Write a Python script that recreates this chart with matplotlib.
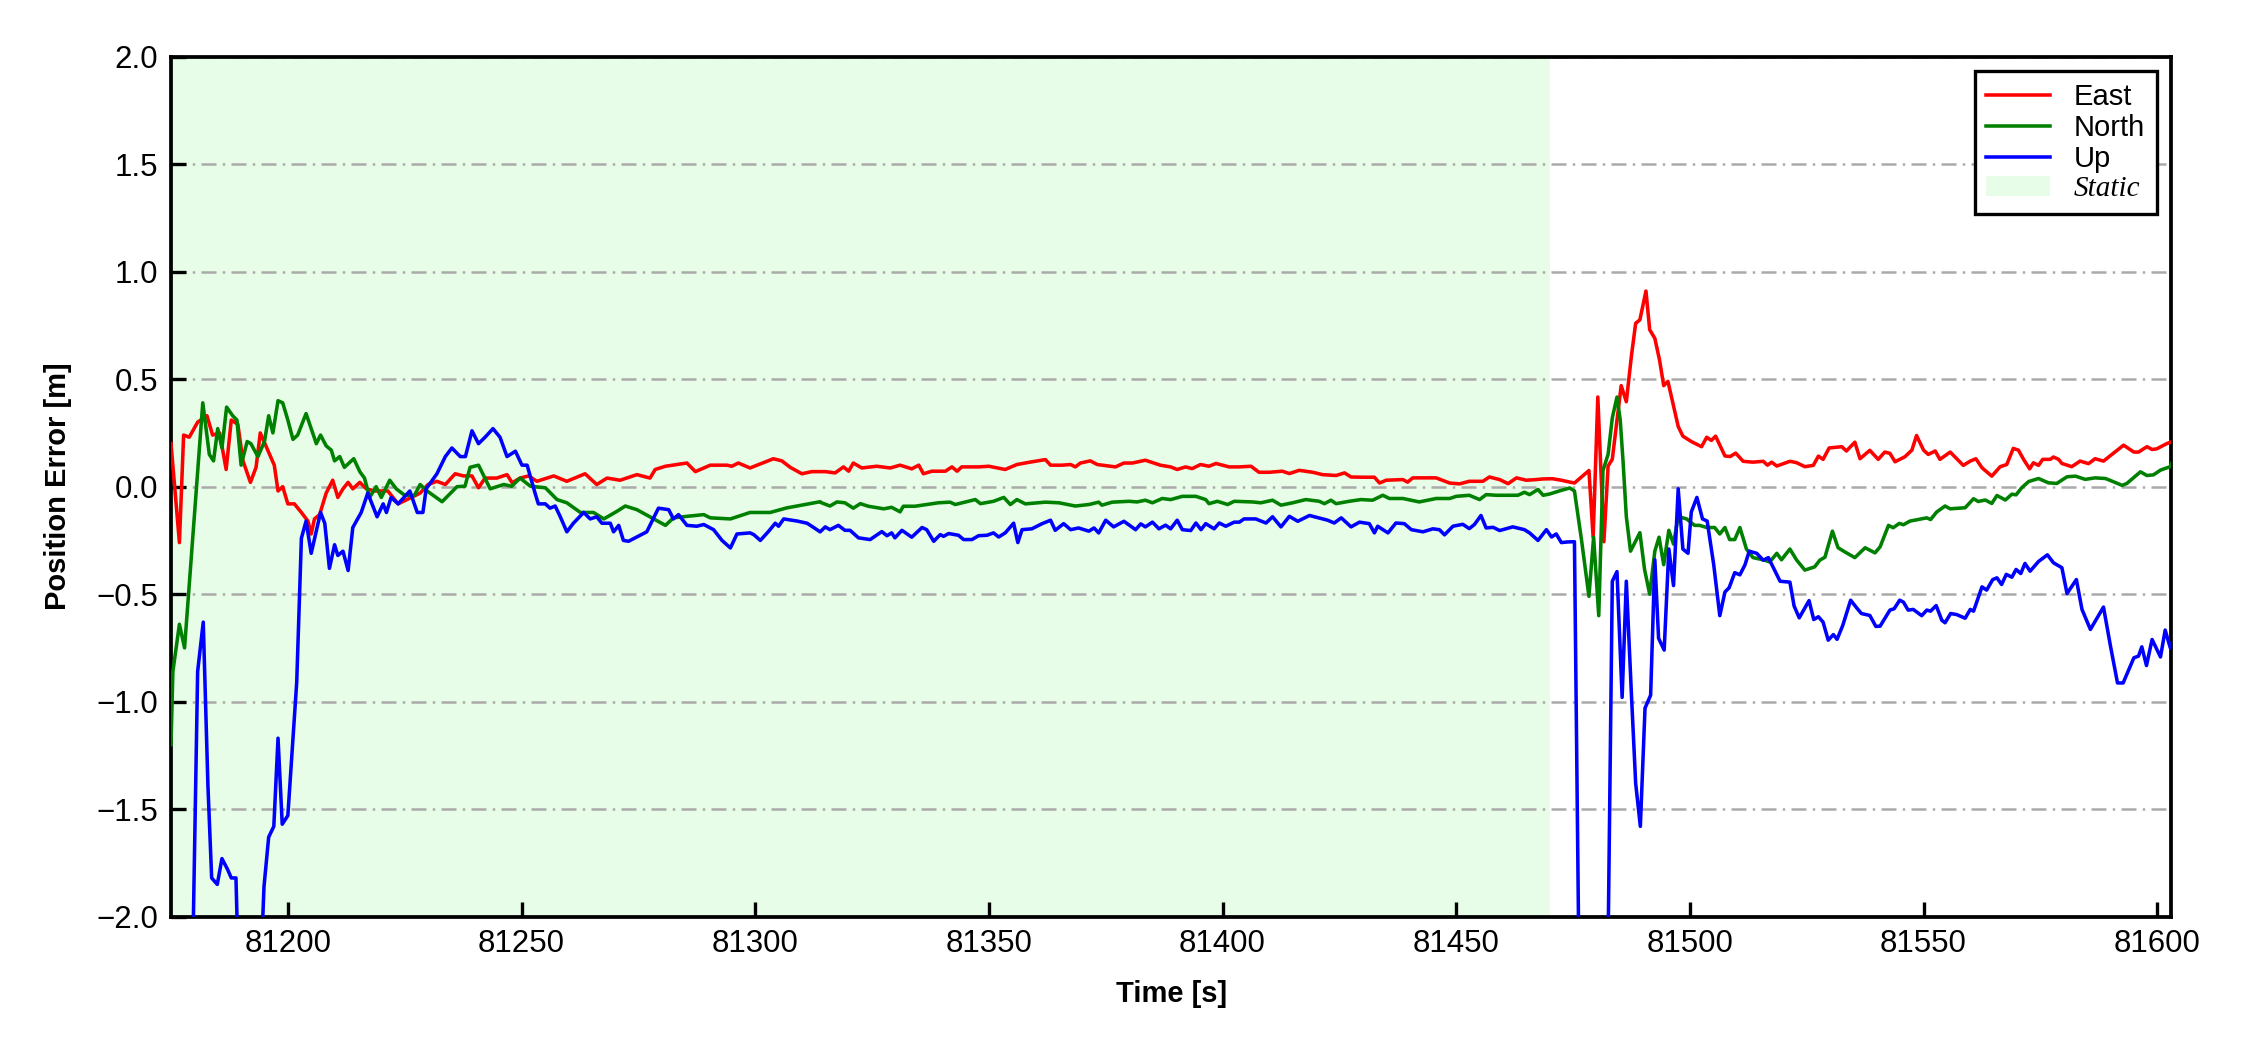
import matplotlib.pyplot as plt
import matplotlib.patches as mpatches

plt.rcParams['font.family'] = ['Liberation Sans', 'DejaVu Sans']
plt.rcParams['axes.unicode_minus'] = True

# ---- data ----
east_t = [81175.0, 81176.8, 81177.7, 81178.9, 81180.7, 81182.7, 81183.9, 81185.4, 81186.8, 81187.9,
          81189.3, 81190.4, 81192.0, 81193.2, 81194.1, 81195.7, 81197.1, 81197.9, 81198.9, 81200.0,
          81201.4, 81202.9, 81204.3, 81205.0, 81205.7, 81206.8, 81208.2, 81209.6, 81210.7, 81211.8,
          81212.9, 81213.9, 81215.4, 81216.8, 81218.6, 81221.4, 81223.6, 81226.4, 81228.3, 81230.0,
          81231.9, 81233.7, 81235.8, 81237.6, 81239.4, 81240.8, 81242.2, 81244.7, 81246.9, 81248.0,
          81249.7, 81251.5, 81253.3, 81256.9, 81259.7, 81263.6, 81266.1, 81268.3, 81271.1, 81274.7,
          81277.5, 81278.6, 81280.8, 81285.4, 81287.2, 81290.4, 81294.0, 81295.0, 81296.4, 81298.9,
          81303.9, 81305.7, 81307.5, 81310.0, 81312.1, 81315.0, 81317.1, 81318.9, 81320.0, 81321.0,
          81322.8, 81326.0, 81328.9, 81331.0, 81333.5, 81335.0, 81336.0, 81337.8, 81340.7, 81342.1,
          81343.2, 81344.2, 81347.8, 81350.0, 81353.5, 81356.0, 81358.5, 81362.1, 81363.2, 81365.7,
          81367.5, 81368.5, 81369.6, 81371.7, 81373.2, 81377.1, 81378.9, 81380.7, 81383.5, 81386.7,
          81388.9, 81390.3, 81392.1, 81393.5, 81395.3, 81397.1, 81398.6, 81401.4, 81403.6, 81406.1,
          81407.8, 81410.0, 81412.8, 81414.3, 81416.4, 81419.3, 81421.4, 81424.3, 81426.1, 81427.5,
          81430.0, 81432.5, 81433.6, 81435.0, 81438.6, 81439.6, 81440.7, 81444.3, 81445.7, 81448.6,
          81450.7, 81452.8, 81455.7, 81457.1, 81459.3, 81461.1, 81462.9, 81465.0, 81467.1, 81468.6,
          81470.6, 81472.5, 81473.5, 81475.3, 81478.4, 81479.3, 81480.3, 81481.6, 81482.5, 81483.4,
          81484.4, 81485.3, 81486.4, 81487.5, 81488.4, 81489.3, 81490.6, 81491.4, 81492.5, 81493.5,
          81494.4, 81495.3, 81496.4, 81497.5, 81498.5, 81500.3, 81502.5, 81503.6, 81504.6, 81505.5,
          81507.5, 81508.6, 81509.8, 81511.4, 81513.5, 81515.7, 81516.6, 81517.5, 81518.6, 81521.4,
          81522.8, 81524.6, 81526.4, 81527.5, 81528.5, 81529.8, 81532.5, 81533.5, 81535.3, 81536.4,
          81538.5, 81540.3, 81541.7, 81542.8, 81543.9, 81546.0, 81547.5, 81548.5, 81550.0, 81551.0,
          81552.5, 81553.5, 81555.7, 81558.5, 81560.0, 81561.2, 81562.5, 81564.6, 81566.4, 81567.8,
          81569.2, 81570.3, 81571.4, 81572.7, 81573.5, 81574.6, 81575.5, 81577.1, 81577.8, 81578.9,
          81579.6, 81581.7, 81583.5, 81585.3, 81586.7, 81588.5, 81590.3, 81592.8, 81595.0, 81596.0,
          81597.8, 81598.9, 81599.9, 81602.1, 81603.5]
east_v = [0.20, -0.26, 0.24, 0.23, 0.30, 0.33, 0.24, 0.25, 0.08, 0.31,
          0.29, 0.12, 0.02, 0.09, 0.25, 0.17, 0.10, -0.02, 0.00, -0.08,
          -0.08, -0.12, -0.16, -0.22, -0.15, -0.13, -0.03, 0.03, -0.05, -0.01,
          0.02, -0.01, 0.02, -0.01, -0.02, -0.02, -0.08, -0.05, -0.03, 0.01,
          0.025, 0.01, 0.06, 0.05, 0.05, -0.005, 0.04, 0.04, 0.056, 0.018,
          0.04, 0.05, 0.025, 0.05, 0.025, 0.06, 0.01, 0.04, 0.03, 0.056,
          0.04, 0.08, 0.095, 0.11, 0.07, 0.10, 0.10, 0.095, 0.11, 0.087,
          0.13, 0.12, 0.09, 0.06, 0.07, 0.07, 0.064, 0.092, 0.072, 0.11,
          0.087, 0.095, 0.087, 0.10, 0.083, 0.10, 0.06, 0.072, 0.072, 0.092,
          0.072, 0.092, 0.092, 0.095, 0.08, 0.103, 0.113, 0.126, 0.10, 0.10,
          0.103, 0.092, 0.11, 0.12, 0.103, 0.092, 0.11, 0.11, 0.123, 0.10,
          0.092, 0.08, 0.092, 0.084, 0.103, 0.095, 0.108, 0.092, 0.092, 0.095,
          0.067, 0.067, 0.072, 0.061, 0.076, 0.067, 0.056, 0.052, 0.064, 0.045,
          0.044, 0.044, 0.017, 0.03, 0.033, 0.021, 0.041, 0.041, 0.041, 0.017,
          0.013, 0.025, 0.025, 0.045, 0.033, 0.014, 0.041, 0.03, 0.033, 0.036,
          0.037, 0.03, 0.025, 0.017, 0.075, -0.235, 0.417, -0.256, 0.096, 0.128,
          0.31, 0.47, 0.395, 0.61, 0.76, 0.776, 0.91, 0.73, 0.69, 0.59,
          0.47, 0.49, 0.385, 0.28, 0.235, 0.21, 0.186, 0.23, 0.215, 0.235,
          0.143, 0.14, 0.156, 0.118, 0.114, 0.118, 0.10, 0.114, 0.096, 0.118,
          0.112, 0.093, 0.099, 0.142, 0.127, 0.18, 0.186, 0.166, 0.207, 0.13,
          0.169, 0.127, 0.161, 0.155, 0.116, 0.139, 0.17, 0.238, 0.17, 0.15,
          0.166, 0.127, 0.161, 0.099, 0.119, 0.13, 0.088, 0.049, 0.093, 0.103,
          0.178, 0.17, 0.127, 0.083, 0.111, 0.099, 0.127, 0.127, 0.138, 0.127,
          0.108, 0.093, 0.119, 0.107, 0.13, 0.119, 0.15, 0.193, 0.161, 0.161,
          0.186, 0.173, 0.176, 0.201, 0.212]

north_t = [81175.0, 81175.4, 81176.8, 81177.9, 81181.8, 81183.2, 81184.1, 81185.0, 81185.9, 81186.9,
           81188.2, 81189.1, 81190.0, 81191.3, 81192.1, 81193.6, 81195.0, 81195.9, 81196.8, 81197.9,
           81198.9, 81200.0, 81201.1, 81202.1, 81203.9, 81205.0, 81206.1, 81207.0, 81208.2, 81209.3,
           81210.0, 81211.1, 81212.1, 81214.1, 81215.4, 81216.4, 81217.5, 81218.9, 81220.0, 81221.8,
           81223.2, 81225.0, 81227.1, 81228.3, 81229.8, 81233.0, 81236.2, 81237.9, 81239.0, 81240.8,
           81243.3, 81246.2, 81247.9, 81249.7, 81251.9, 81255.1, 81257.6, 81259.7, 81262.6, 81265.4,
           81267.6, 81270.4, 81272.2, 81274.7, 81280.8, 81282.5, 81285.4, 81289.0, 81290.4, 81294.7,
           81298.9, 81303.2, 81306.7, 81313.9, 81314.2, 81316.0, 81317.5, 81319.2, 81321.0, 81322.5,
           81324.2, 81327.5, 81329.2, 81331.0, 81331.7, 81334.2, 81337.1, 81339.2, 81341.7, 81342.8,
           81344.9, 81347.1, 81348.2, 81351.0, 81353.2, 81354.6, 81356.0, 81357.8, 81362.1, 81365.0,
           81368.5, 81371.4, 81373.5, 81374.2, 81376.4, 81380.0, 81381.7, 81383.5, 81385.0, 81387.1,
           81388.9, 81391.4, 81394.3, 81396.4, 81397.1, 81398.9, 81401.1, 81402.5, 81406.4, 81408.2,
           81410.7, 81412.5, 81415.0, 81417.8, 81420.7, 81421.8, 81423.2, 81424.3, 81427.1, 81429.6,
           81432.1, 81434.3, 81435.7, 81438.6, 81442.1, 81445.7, 81448.6, 81450.0, 81452.8, 81455.0,
           81456.4, 81458.6, 81463.2, 81464.6, 81465.7, 81467.5, 81468.6, 81470.0, 81472.5, 81474.3,
           81475.3, 81476.8, 81478.4, 81479.4, 81480.5, 81481.4, 81482.5, 81483.4, 81484.4, 81485.1,
           81485.7, 81486.4, 81487.3, 81489.3, 81490.3, 81491.4, 81492.5, 81493.4, 81494.4, 81495.5,
           81496.5, 81497.5, 81499.3, 81501.0, 81502.1, 81503.6, 81505.3, 81506.4, 81507.5, 81508.5,
           81509.6, 81510.7, 81512.1, 81513.5, 81515.7, 81517.1, 81518.6, 81519.6, 81521.4, 81522.8,
           81524.6, 81526.7, 81527.8, 81528.9, 81530.5, 81531.7, 81533.2, 81535.3, 81537.5, 81539.6,
           81540.7, 81542.5, 81543.5, 81544.8, 81545.7, 81547.1, 81550.7, 81551.5, 81552.8, 81554.6,
           81555.7, 81558.9, 81560.7, 81561.7, 81563.2, 81564.6, 81565.7, 81567.5, 81568.9, 81569.8,
           81571.0, 81572.5, 81574.6, 81576.7, 81578.5, 81580.7, 81582.5, 81584.6, 81586.7, 81588.9,
           81590.3, 81592.5, 81593.5, 81596.4, 81597.8, 81599.2, 81600.7, 81601.7, 81602.8, 81603.5]
north_v = [-1.20, -0.86, -0.64, -0.75, 0.39, 0.15, 0.12, 0.27, 0.18, 0.37,
           0.33, 0.31, 0.10, 0.21, 0.20, 0.14, 0.21, 0.33, 0.25, 0.40,
           0.39, 0.31, 0.22, 0.24, 0.34, 0.27, 0.20, 0.24, 0.19, 0.17,
           0.12, 0.14, 0.09, 0.13, 0.07, 0.04, -0.05, 0.00, -0.05, 0.03,
           -0.01, -0.04, -0.04, 0.01, -0.02, -0.07, 0.00, 0.002, 0.09, 0.10,
           -0.01, 0.01, 0.002, 0.04, 0.002, -0.005, -0.06, -0.075, -0.12, -0.12,
           -0.15, -0.115, -0.09, -0.107, -0.18, -0.145, -0.138, -0.13, -0.145, -0.15,
           -0.12, -0.12, -0.099, -0.07, -0.075, -0.09, -0.071, -0.075, -0.10, -0.079,
           -0.091, -0.103, -0.096, -0.117, -0.091, -0.091, -0.082, -0.075, -0.072, -0.083,
           -0.072, -0.06, -0.079, -0.068, -0.05, -0.083, -0.06, -0.08, -0.072, -0.075,
           -0.09, -0.083, -0.072, -0.086, -0.072, -0.068, -0.071, -0.063, -0.075, -0.055,
           -0.06, -0.045, -0.045, -0.06, -0.079, -0.068, -0.083, -0.068, -0.071, -0.075,
           -0.063, -0.086, -0.075, -0.06, -0.068, -0.079, -0.063, -0.079, -0.068, -0.06,
           -0.063, -0.04, -0.055, -0.055, -0.071, -0.055, -0.055, -0.045, -0.04, -0.06,
           -0.037, -0.04, -0.04, -0.026, -0.037, -0.013, -0.04, -0.034, -0.017, -0.006,
           -0.02, -0.246, -0.51, -0.235, -0.60, 0.075, 0.15, 0.32, 0.417, 0.31,
           0.118, -0.139, -0.30, -0.214, -0.385, -0.50, -0.30, -0.235, -0.363, -0.203,
           -0.267, -0.139, -0.15, -0.18, -0.18, -0.19, -0.19, -0.22, -0.19, -0.246,
           -0.246, -0.19, -0.29, -0.33, -0.34, -0.35, -0.31, -0.34, -0.29, -0.34,
           -0.388, -0.373, -0.342, -0.328, -0.207, -0.284, -0.304, -0.33, -0.284, -0.308,
           -0.28, -0.18, -0.191, -0.171, -0.177, -0.16, -0.145, -0.153, -0.118, -0.09,
           -0.103, -0.098, -0.056, -0.069, -0.062, -0.078, -0.041, -0.062, -0.035, -0.038,
           -0.005, 0.024, 0.038, 0.018, 0.015, 0.046, 0.049, 0.034, 0.041, 0.038,
           0.026, 0.006, 0.015, 0.069, 0.052, 0.055, 0.077, 0.085, 0.093, 0.131]

up_t = [81175.0, 81179.4, 81180.7, 81181.9, 81182.9, 81183.7, 81184.9, 81185.9, 81187.1, 81187.9,
        81188.9, 81189.6, 81192.0, 81194.1, 81194.9, 81195.9, 81197.0, 81197.9, 81198.8, 81200.0,
        81201.1, 81201.9, 81202.9, 81203.9, 81205.0, 81207.0, 81207.9, 81208.9, 81210.0, 81210.7,
        81211.8, 81212.9, 81213.9, 81215.7, 81217.1, 81219.1, 81220.4, 81221.1, 81222.1, 81223.6,
        81226.1, 81227.7, 81228.9, 81229.6, 81231.9, 81233.7, 81235.1, 81236.9, 81238.0, 81239.4,
        81240.8, 81242.2, 81243.9, 81245.4, 81246.9, 81248.7, 81250.1, 81251.2, 81252.9, 81253.6,
        81255.1, 81256.1, 81257.2, 81258.3, 81259.7, 81261.1, 81263.3, 81264.7, 81266.1, 81267.2,
        81269.0, 81269.7, 81270.8, 81271.8, 81272.9, 81276.8, 81279.3, 81281.5, 81282.5, 81283.6,
        81285.4, 81287.5, 81289.0, 81291.1, 81292.9, 81294.7, 81296.1, 81298.9, 81299.7, 81301.1,
        81302.9, 81304.3, 81305.0, 81306.1, 81309.0, 81311.1, 81312.1, 81313.9, 81315.0, 81316.0,
        81317.8, 81319.2, 81320.3, 81322.1, 81324.6, 81327.1, 81328.2, 81329.2, 81329.9, 81331.4,
        81333.5, 81335.7, 81336.7, 81338.2, 81339.6, 81340.3, 81341.4, 81343.5, 81344.6, 81346.4,
        81347.8, 81349.6, 81351.0, 81352.1, 81353.5, 81355.3, 81356.2, 81357.1, 81359.2, 81361.4,
        81363.2, 81364.2, 81366.0, 81367.5, 81369.2, 81371.4, 81372.5, 81373.5, 81375.0, 81376.7,
        81378.9, 81381.4, 81382.5, 81383.5, 81385.0, 81386.4, 81387.8, 81388.9, 81390.3, 81391.4,
        81393.2, 81394.3, 81395.4, 81396.4, 81398.2, 81399.3, 81400.7, 81402.5, 81403.6, 81404.6,
        81407.1, 81409.3, 81410.7, 81412.5, 81414.3, 81416.1, 81418.6, 81421.1, 81422.5, 81423.9,
        81425.4, 81427.5, 81429.3, 81431.4, 81432.5, 81433.2, 81435.4, 81437.1, 81438.9, 81440.4,
        81442.9, 81445.0, 81446.4, 81447.5, 81449.3, 81451.4, 81452.8, 81453.9, 81455.3, 81456.4,
        81457.9, 81459.3, 81462.1, 81464.6, 81465.7, 81467.5, 81469.3, 81470.4, 81471.4, 81472.5,
        81473.9, 81475.3, 81476.4, 81482.3, 81483.4, 81484.4, 81485.5, 81486.4, 81487.5, 81488.4,
        81489.4, 81490.4, 81491.6, 81492.5, 81493.3, 81494.5, 81495.5, 81496.5, 81497.5, 81498.5,
        81499.6, 81500.3, 81501.5, 81502.7, 81503.7, 81505.1, 81506.4, 81507.5, 81508.4, 81509.6,
        81510.7, 81511.8, 81512.7, 81514.3, 81515.7, 81516.8, 81517.8, 81519.3, 81521.4, 81522.3,
        81523.4, 81525.5, 81526.5, 81527.5, 81528.5, 81529.6, 81530.7, 81531.5, 81532.7, 81534.4,
        81535.7, 81536.7, 81538.5, 81539.8, 81540.7, 81542.8, 81543.7, 81544.9, 81545.7, 81546.7,
        81547.8, 81549.6, 81550.7, 81551.5, 81552.7, 81553.9, 81554.6, 81555.8, 81557.1, 81558.9,
        81560.0, 81560.7, 81562.5, 81563.5, 81564.8, 81565.7, 81566.7, 81567.7, 81568.9, 81569.8,
        81570.8, 81571.7, 81572.8, 81574.6, 81576.5, 81577.8, 81579.6, 81580.7, 81582.7, 81583.9,
        81585.7, 81588.5, 81590.0, 81591.5, 81592.7, 81595.0, 81596.0, 81596.7, 81597.7, 81598.9,
        81600.7, 81601.7, 81602.8, 81603.5]
up_v = [-2.5, -2.5, -0.86, -0.63, -1.39, -1.82, -1.85, -1.73, -1.78, -1.82,
        -1.82, -2.4, -2.6, -2.3, -1.86, -1.63, -1.58, -1.17, -1.57, -1.53,
        -1.17, -0.91, -0.24, -0.16, -0.31, -0.12, -0.17, -0.38, -0.27, -0.32,
        -0.30, -0.39, -0.19, -0.12, -0.03, -0.14, -0.08, -0.12, -0.05, -0.08,
        -0.02, -0.12, -0.12, -0.01, 0.06, 0.14, 0.18, 0.14, 0.14, 0.26,
        0.20, 0.23, 0.27, 0.23, 0.14, 0.165, 0.10, 0.10, -0.03, -0.08,
        -0.08, -0.10, -0.09, -0.14, -0.21, -0.17, -0.12, -0.15, -0.14, -0.17,
        -0.17, -0.21, -0.18, -0.25, -0.254, -0.21, -0.10, -0.107, -0.15, -0.13,
        -0.18, -0.184, -0.176, -0.20, -0.25, -0.285, -0.22, -0.215, -0.223, -0.25,
        -0.207, -0.17, -0.184, -0.15, -0.16, -0.17, -0.184, -0.21, -0.187, -0.20,
        -0.18, -0.203, -0.203, -0.238, -0.246, -0.209, -0.228, -0.215, -0.238, -0.203,
        -0.235, -0.19, -0.20, -0.254, -0.223, -0.231, -0.218, -0.226, -0.246, -0.246,
        -0.228, -0.226, -0.215, -0.234, -0.215, -0.17, -0.26, -0.20, -0.196, -0.172,
        -0.156, -0.203, -0.172, -0.20, -0.192, -0.207, -0.192, -0.215, -0.156, -0.187,
        -0.161, -0.20, -0.173, -0.187, -0.165, -0.196, -0.179, -0.196, -0.156, -0.20,
        -0.204, -0.169, -0.20, -0.172, -0.196, -0.169, -0.184, -0.165, -0.165, -0.15,
        -0.15, -0.169, -0.14, -0.187, -0.138, -0.161, -0.134, -0.148, -0.156, -0.169,
        -0.145, -0.187, -0.165, -0.172, -0.215, -0.184, -0.215, -0.169, -0.172, -0.20,
        -0.21, -0.196, -0.20, -0.224, -0.184, -0.175, -0.195, -0.176, -0.134, -0.192,
        -0.189, -0.204, -0.187, -0.20, -0.215, -0.25, -0.20, -0.234, -0.22, -0.26,
        -0.257, -0.256, -2.5, -2.5, -0.44, -0.395, -0.98, -0.44, -0.97, -1.38,
        -1.58, -1.03, -0.97, -0.34, -0.705, -0.76, -0.29, -0.46, -0.01, -0.29,
        -0.31, -0.118, -0.05, -0.15, -0.16, -0.363, -0.60, -0.49, -0.47, -0.40,
        -0.41, -0.363, -0.30, -0.31, -0.342, -0.33, -0.374, -0.44, -0.444, -0.555,
        -0.61, -0.53, -0.618, -0.605, -0.63, -0.714, -0.688, -0.71, -0.646, -0.528,
        -0.564, -0.59, -0.599, -0.65, -0.649, -0.574, -0.568, -0.528, -0.537, -0.574,
        -0.571, -0.60, -0.574, -0.579, -0.553, -0.621, -0.633, -0.59, -0.595, -0.612,
        -0.571, -0.579, -0.466, -0.481, -0.432, -0.424, -0.455, -0.408, -0.421, -0.385,
        -0.404, -0.357, -0.393, -0.348, -0.317, -0.354, -0.377, -0.497, -0.432, -0.571,
        -0.664, -0.56, -0.742, -0.913, -0.913, -0.796, -0.788, -0.745, -0.832, -0.711,
        -0.792, -0.667, -0.75, -0.703]

static_start = 81175
static_end = 81470
x_range = (81175, 81603)
y_range = (-2.0, 2.0)


def fmt_y(v, pos):
    # proper minus sign like the original
    return f'{v:.1f}'.replace('-', '\u2212')


def draw_chart():
    fig = plt.figure(figsize=(7.5, 3.5), dpi=300)
    ax = fig.add_axes([0.076, 0.127, 0.889, 0.819])

    ax.axvspan(static_start, static_end, facecolor='#e7fde7', edgecolor='none', zorder=0)

    ax.plot(east_t, east_v, color='red', linewidth=0.85, label='East', zorder=3)
    ax.plot(north_t, north_v, color='green', linewidth=0.85, label='North', zorder=3)
    ax.plot(up_t, up_v, color='blue', linewidth=0.85, label='Up', zorder=3)

    ax.set_xlim(*x_range)
    ax.set_ylim(*y_range)
    ax.set_xticks([81200, 81250, 81300, 81350, 81400, 81450, 81500, 81550, 81600])
    ax.set_yticks([-2.0, -1.5, -1.0, -0.5, 0.0, 0.5, 1.0, 1.5, 2.0])
    ax.yaxis.set_major_formatter(plt.FuncFormatter(fmt_y))

    ax.grid(True, axis='y', color='#aaaaaa', linewidth=0.6, linestyle=(0, (6, 2.5, 1, 2.5)))
    ax.set_axisbelow(True)

    ax.tick_params(direction='in', length=3.5, width=0.8, labelsize=7.5, pad=3,
                   top=False, right=False)
    for sp in ax.spines.values():
        sp.set_linewidth(0.9)

    label_font = dict(family=['Liberation Sans Narrow', 'Liberation Sans'],
                      fontweight='bold', fontsize=7)
    ax.set_xlabel('Time [s]', labelpad=5, **label_font)
    ax.set_ylabel('Position Error [m]', labelpad=6, **label_font)

    handles, labels = ax.get_legend_handles_labels()
    handles.append(mpatches.Patch(facecolor='#e7fde7', edgecolor='none'))
    labels.append('Static')
    leg = ax.legend(handles, labels, loc='upper right', fontsize=7, frameon=True, fancybox=False,
                    edgecolor='black', framealpha=1, labelspacing=0.1, handlelength=2.2,
                    handletextpad=0.8, borderpad=0.4, borderaxespad=0.5)
    leg.get_frame().set_linewidth(0.8)
    static_txt = leg.get_texts()[-1]
    static_txt.set_family(['Liberation Serif', 'DejaVu Serif'])
    static_txt.set_style('italic')

    plt.savefig('out.png', dpi=300)
    plt.close()
    print("[OK] Saved: out.png")


if __name__ == "__main__":
    draw_chart()
